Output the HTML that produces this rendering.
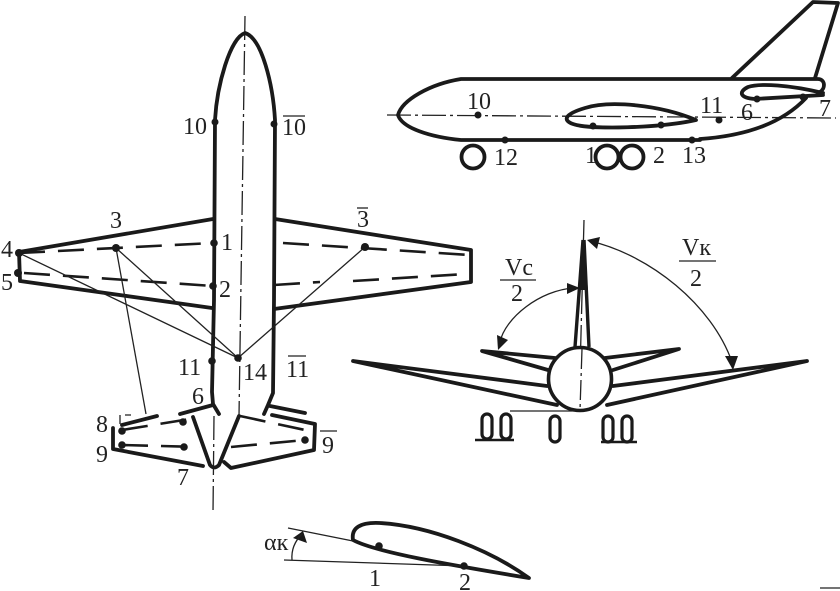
<!DOCTYPE html>
<html><head><meta charset="utf-8"><style>
html,body{margin:0;padding:0;background:#fff}
svg{display:block}
text{font-family:"Liberation Serif",serif;font-size:24px;fill:#222}
.t{fill:none;stroke:#1a1a1a;stroke-width:3.8;stroke-linejoin:round;stroke-linecap:round}
.m{fill:none;stroke:#1a1a1a;stroke-width:2.4}
.n{fill:none;stroke:#222;stroke-width:1.3}
.c{fill:none;stroke:#222;stroke-width:1.3;stroke-dasharray:24 4 3 4}
.d{fill:none;stroke:#1a1a1a;stroke-width:2.6;stroke-dasharray:26 13}
</style></head><body>
<svg width="840" height="591" viewBox="0 0 840 591" xmlns="http://www.w3.org/2000/svg">
<!-- plan view -->
<path class="c" d="M245 16L239 416"/>
<path class="c" d="M214 416L213 513"/>
<path class="t" d="M219 414L213 404 212 392 214 300 215 120C217 85 230 38 245 33C262 38 273 85 275 120L274 300 273 393 268 405 264 414"/>
<path class="t" d="M213 219L19 252 20 281 212 308"/>
<path class="t" d="M275 219L471 250 471 282 274 309"/>
<path class="d" d="M19 253L213 243"/>
<path class="d" d="M24 273L213 286"/>
<path class="d" d="M283 243L470 255"/>
<path class="d" d="M353 281L466 274M274 285L320 282"/>
<path class="n" d="M19 253L238 358 116 248 146 414M238 358L365 247"/>
<path class="t" d="M213 405L180 414M157 416L122 425M113 428L113 449 203 466"/>
<path class="t" d="M193 417L210 465Q214 470 219 465Q226 448 239 416"/>
<path class="t" d="M224 462L231 468 314 450 315 424 272 415M270 406L305 413"/>
<path class="d" d="M122 430L190 419"/>
<path class="d" d="M122 445L200 447"/>
<path class="d" d="M240 416L305 430"/>
<path class="d" d="M231 447L305 440"/>
<path class="n" d="M120 415L120 424M125 415L131 415"/>
<g fill="#1a1a1a">
<circle cx="215" cy="122" r="3.5"/><circle cx="274" cy="124" r="3.5"/>
<circle cx="214" cy="243" r="3.8"/><circle cx="213" cy="286" r="3.8"/>
<circle cx="19" cy="253" r="4"/><circle cx="18" cy="273" r="4"/>
<circle cx="116" cy="248" r="4"/><circle cx="365" cy="247" r="4"/>
<circle cx="212" cy="361" r="3.8"/><circle cx="238" cy="358" r="3.8"/>
<circle cx="122" cy="431" r="3.8"/><circle cx="122" cy="445" r="3.8"/>
<circle cx="183" cy="422" r="3.8"/><circle cx="184" cy="447" r="3.8"/><circle cx="305" cy="440" r="3.8"/>
</g>
<text x="183" y="134">10</text><text x="282" y="135">10</text><path class="n" d="M283 116H305"/>
<text x="110" y="228">3</text><text x="357" y="227">3</text><path class="n" d="M357 208H368"/>
<text x="1" y="257">4</text><text x="1" y="290">5</text>
<text x="221" y="250">1</text><text x="219" y="297">2</text>
<text x="178" y="375">11</text><text x="243" y="380">14</text><text x="286" y="377">11</text><path class="n" d="M288 356H306"/>
<text x="192" y="404">6</text><text x="96" y="432">8</text><text x="96" y="462">9</text><text x="177" y="485">7</text>
<text x="322" y="453">9</text><path class="n" d="M320 431H337"/>
<!-- side view -->
<path class="c" d="M387 115L836 118"/>
<path class="t" d="M732 78L813 2 838 3 815 78"/>
<path class="t" d="M700 139C760 135 790 115 806 98"/>
<path class="t" d="M461 79H818C825 79 826 88 820 92M461 140H700M461 79C430 84 402 100 398 115C402 128 430 137 461 140"/>
<path class="t" d="M823 93C790 85 760 83 748 87C738 92 740 98 755 99L823 95"/>
<path class="t" d="M696 120C660 105 610 100 585 108C565 114 562 120 573 124C590 130 660 128 696 120Z"/>
<circle class="t" cx="473" cy="157" r="11.5"/><circle class="t" cx="607" cy="157" r="11.5"/><circle class="t" cx="632" cy="157" r="11.5"/>
<g fill="#1a1a1a">
<circle cx="478" cy="115" r="3.5"/><circle cx="593" cy="126" r="3.5"/><circle cx="661" cy="125" r="3.5"/>
<circle cx="719" cy="120" r="3.5"/><circle cx="757" cy="99" r="3.5"/><circle cx="803" cy="97" r="3.5"/>
<circle cx="505" cy="140" r="3.5"/><circle cx="692" cy="140" r="3.5"/>
</g>
<text x="467" y="109">10</text><text x="700" y="113">11</text><text x="741" y="120">6</text><text x="819" y="116">7</text>
<text x="494" y="165">12</text><text x="585" y="163">1</text><text x="653" y="163">2</text><text x="682" y="163">13</text>
<!-- front view -->
<path class="c" d="M584 220L579 410"/>
<path fill="#1a1a1a" d="M583 238L588 290H579Z"/>
<path fill="none" stroke="#1a1a1a" stroke-width="3.4" stroke-linejoin="round" d="M583 240L575 347M584 240L589 347"/>
<path class="t" d="M555 358L482 351 548 370M605 358L679 349 613 370"/>
<path class="t" d="M547 386L353 361 557 405M613 386L807 361 607 405"/>
<circle cx="580" cy="379" r="31.5" fill="#fff" stroke="#1a1a1a" stroke-width="3.6"/>
<path class="n" stroke-dasharray="20 4 3 4" d="M582 349L580 410"/>
<path class="n" d="M510 411H575"/>
<path class="m" d="M475 440H514"/><path class="m" d="M601 442H637"/>
<g fill="none" stroke="#1a1a1a" stroke-width="3.2">
<rect x="482" y="414" width="10" height="25" rx="5"/><rect x="501" y="414" width="10" height="25" rx="5"/>
<rect x="550" y="416" width="10" height="26" rx="5"/>
<rect x="603" y="416" width="10" height="26" rx="5"/><rect x="622" y="416" width="10" height="26" rx="5"/>
</g>
<path class="n" d="M590 241C650 255 712 305 732 362"/>
<path class="n" d="M574 288C540 290 505 318 500 342"/>
<g fill="#1a1a1a">
<path d="M587 240L600 237 597 249Z"/><path d="M733 370L725 356 738 356Z"/>
<path d="M580 288L567 283 567 294Z"/><path d="M498 350L497 335 508 340Z"/>
</g>
<text x="505" y="275">Vc</text><path class="n" d="M500 280H536"/><text x="511" y="301">2</text>
<text x="682" y="255">Vк</text><path class="n" d="M679 261H716"/><text x="690" y="286">2</text>
<!-- airfoil -->
<path class="t" d="M529 578C490 550 430 526 380 523C360 522 351 528 353 540C375 552 450 565 529 578Z"/>
<path class="n" d="M288 528L353 541M284 560L464 566"/>
<g fill="#1a1a1a"><circle cx="379" cy="546" r="3.8"/><circle cx="464" cy="566" r="3.8"/>
<path d="M303 531L293 538 307 543Z"/></g>
<path class="n" d="M292 560C291 548 296 540 302 534"/>
<text x="264" y="550">αк</text><text x="369" y="586">1</text><text x="459" y="590">2</text>
<path class="n" d="M820 588H840"/>
</svg>
</body></html>
